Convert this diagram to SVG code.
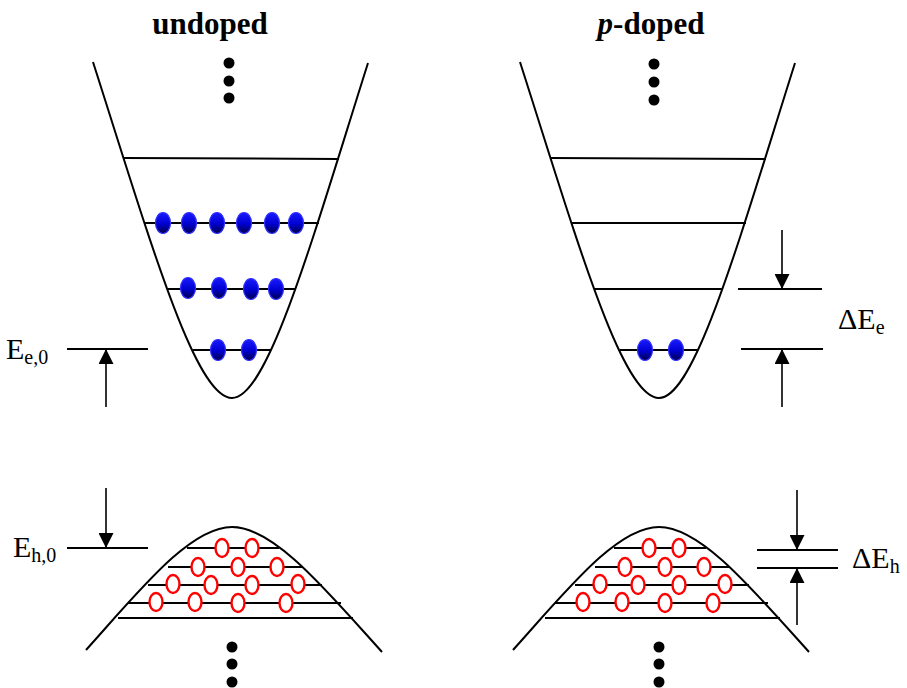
<svg xmlns="http://www.w3.org/2000/svg" width="907" height="688" viewBox="0 0 907 688">
<style>
.curve{fill:none;stroke:#000;stroke-width:2}
.lvl{stroke:#000;stroke-width:2}
.arr{stroke:#000;stroke-width:1.6}
.dot{fill:#000}
.el{fill:url(#eg);stroke:#3030ff;stroke-width:1.2}
.ho{fill:#fff;stroke:#f00;stroke-width:2.4}
.t{font-family:"Liberation Serif","Times New Roman",serif;fill:#000}
.title{font-size:31px;font-weight:bold}
.lab{font-size:30px}
.sub{font-size:20px}
</style>
<defs>
<linearGradient id="eg" x1="0" y1="0" x2="0" y2="1">
<stop offset="0" stop-color="#1a1aff"/>
<stop offset="0.55" stop-color="#0000d0"/>
<stop offset="1" stop-color="#000048"/>
</linearGradient>
<marker id="ah" viewBox="0 0 10 10" refX="10" refY="5" markerWidth="15" markerHeight="15" markerUnits="userSpaceOnUse" orient="auto">
<path d="M0,0 L10,5 L0,10 Z" fill="#000"/>
</marker>
</defs>

<text class="t title" x="210" y="34" text-anchor="middle">undoped</text>
<text class="t title" x="651" y="34" text-anchor="middle"><tspan font-style="italic">p</tspan>-doped</text>

<g id="cb-undoped">
<path class="curve" d="M93,62 C150,240 195,398 232,398 C268,398 312,240 368,63"/>
<line class="lvl" x1="123" y1="158" x2="339" y2="159"/>
<line class="lvl" x1="145" y1="223" x2="319" y2="223"/>
<line class="lvl" x1="167" y1="289" x2="295" y2="289"/>
<line class="lvl" x1="193" y1="350" x2="271" y2="350"/>
<circle class="dot" cx="229" cy="63" r="5.5"/>
<circle class="dot" cx="229" cy="81" r="5.5"/>
<circle class="dot" cx="229" cy="98" r="5.5"/>
<ellipse class="el" cx="163" cy="223" rx="7.5" ry="10.5"/>
<ellipse class="el" cx="189" cy="223" rx="7.5" ry="10.5"/>
<ellipse class="el" cx="217" cy="223" rx="7.5" ry="10.5"/>
<ellipse class="el" cx="244" cy="223" rx="7.5" ry="10.5"/>
<ellipse class="el" cx="272" cy="223" rx="7.5" ry="10.5"/>
<ellipse class="el" cx="296" cy="223" rx="7.5" ry="10.5"/>
<ellipse class="el" cx="188" cy="288" rx="7.5" ry="10.5"/>
<ellipse class="el" cx="219" cy="288" rx="7.5" ry="10.5"/>
<ellipse class="el" cx="251" cy="289" rx="7.5" ry="10.5"/>
<ellipse class="el" cx="276" cy="289" rx="7.5" ry="10.5"/>
<ellipse class="el" cx="218" cy="350" rx="7.5" ry="10.5"/>
<ellipse class="el" cx="249" cy="350" rx="7.5" ry="10.5"/>
</g>

<g id="cb-pdoped">
<path class="curve" d="M520,62 C577,240 622,398 659,398 C695,398 739,240 795,63"/>
<line class="lvl" x1="550" y1="158" x2="766" y2="159"/>
<line class="lvl" x1="571" y1="223" x2="746" y2="223"/>
<line class="lvl" x1="594" y1="289" x2="723" y2="289"/>
<line class="lvl" x1="620" y1="350" x2="697" y2="350"/>
<circle class="dot" cx="654" cy="64" r="5.5"/>
<circle class="dot" cx="654" cy="82" r="5.5"/>
<circle class="dot" cx="654" cy="100" r="5.5"/>
<ellipse class="el" cx="645" cy="350" rx="7.5" ry="10.5"/>
<ellipse class="el" cx="676" cy="350" rx="7.5" ry="10.5"/>
</g>

<g id="vb-undoped">
<path class="curve" d="M86,650 C140,590 190,527 232,527 C274,527 326,590 382,652"/>
<line class="lvl" x1="187" y1="548" x2="279" y2="548"/>
<line class="lvl" x1="168" y1="567" x2="302" y2="567"/>
<line class="lvl" x1="148" y1="585" x2="322" y2="585"/>
<line class="lvl" x1="128" y1="603" x2="341" y2="603"/>
<line class="lvl" x1="118" y1="618" x2="353" y2="618"/>
<ellipse class="ho" cx="222" cy="548" rx="6.5" ry="9"/>
<ellipse class="ho" cx="252" cy="548" rx="6.5" ry="9"/>
<ellipse class="ho" cx="198" cy="567" rx="6.5" ry="9"/>
<ellipse class="ho" cx="238" cy="567" rx="6.5" ry="9"/>
<ellipse class="ho" cx="277" cy="567" rx="6.5" ry="9"/>
<ellipse class="ho" cx="173" cy="584" rx="6.5" ry="9"/>
<ellipse class="ho" cx="211" cy="585" rx="6.5" ry="9"/>
<ellipse class="ho" cx="252" cy="585" rx="6.5" ry="9"/>
<ellipse class="ho" cx="298" cy="584" rx="6.5" ry="9"/>
<ellipse class="ho" cx="156" cy="602" rx="6.5" ry="9"/>
<ellipse class="ho" cx="195" cy="602" rx="6.5" ry="9"/>
<ellipse class="ho" cx="238" cy="603" rx="6.5" ry="9"/>
<ellipse class="ho" cx="286" cy="603" rx="6.5" ry="9"/>
<circle class="dot" cx="232" cy="647" r="5.5"/>
<circle class="dot" cx="232" cy="664" r="5.5"/>
<circle class="dot" cx="232" cy="682" r="5.5"/>
</g>

<g id="vb-pdoped" transform="translate(427,0)">
<path class="curve" d="M86,650 C140,590 190,527 232,527 C274,527 326,590 382,652"/>
<line class="lvl" x1="187" y1="548" x2="279" y2="548"/>
<line class="lvl" x1="168" y1="567" x2="302" y2="567"/>
<line class="lvl" x1="148" y1="585" x2="322" y2="585"/>
<line class="lvl" x1="128" y1="603" x2="341" y2="603"/>
<line class="lvl" x1="118" y1="618" x2="353" y2="618"/>
<ellipse class="ho" cx="222" cy="548" rx="6.5" ry="9"/>
<ellipse class="ho" cx="252" cy="548" rx="6.5" ry="9"/>
<ellipse class="ho" cx="198" cy="567" rx="6.5" ry="9"/>
<ellipse class="ho" cx="238" cy="567" rx="6.5" ry="9"/>
<ellipse class="ho" cx="277" cy="567" rx="6.5" ry="9"/>
<ellipse class="ho" cx="173" cy="584" rx="6.5" ry="9"/>
<ellipse class="ho" cx="211" cy="585" rx="6.5" ry="9"/>
<ellipse class="ho" cx="252" cy="585" rx="6.5" ry="9"/>
<ellipse class="ho" cx="298" cy="584" rx="6.5" ry="9"/>
<ellipse class="ho" cx="156" cy="602" rx="6.5" ry="9"/>
<ellipse class="ho" cx="195" cy="602" rx="6.5" ry="9"/>
<ellipse class="ho" cx="238" cy="603" rx="6.5" ry="9"/>
<ellipse class="ho" cx="286" cy="603" rx="6.5" ry="9"/>
<circle class="dot" cx="232" cy="647" r="5.5"/>
<circle class="dot" cx="232" cy="664" r="5.5"/>
<circle class="dot" cx="232" cy="682" r="5.5"/>
</g>

<g id="label-Ee0">
<line class="lvl" x1="67" y1="349" x2="148" y2="349"/>
<text class="t lab" x="6" y="359">E<tspan class="sub" dy="5">e,0</tspan></text>
</g>
<g id="label-Eh0">
<line class="lvl" x1="67" y1="548" x2="148" y2="548"/>
<text class="t lab" x="13" y="557">E<tspan class="sub" dy="5">h,0</tspan></text>
</g>
<g id="label-dEe">
<line class="lvl" x1="738" y1="289" x2="822" y2="289"/>
<line class="lvl" x1="741" y1="349" x2="823" y2="349"/>
<text class="t lab" x="838" y="329">ΔE<tspan class="sub" dy="5">e</tspan></text>
</g>
<g id="label-dEh">
<line class="lvl" x1="757" y1="550" x2="838" y2="550"/>
<line class="lvl" x1="757" y1="568" x2="838" y2="568"/>
<text class="t lab" x="852" y="568">ΔE<tspan class="sub" dy="5">h</tspan></text>
</g>

<g id="connectors">
<line class="arr" x1="106" y1="407" x2="106" y2="349" marker-end="url(#ah)"/>
<line class="arr" x1="106" y1="488" x2="106" y2="548" marker-end="url(#ah)"/>
<line class="arr" x1="782" y1="230" x2="782" y2="289" marker-end="url(#ah)"/>
<line class="arr" x1="782" y1="407" x2="782" y2="349" marker-end="url(#ah)"/>
<line class="arr" x1="797" y1="490" x2="797" y2="550" marker-end="url(#ah)"/>
<line class="arr" x1="797" y1="625" x2="797" y2="568" marker-end="url(#ah)"/>
</g>
</svg>
